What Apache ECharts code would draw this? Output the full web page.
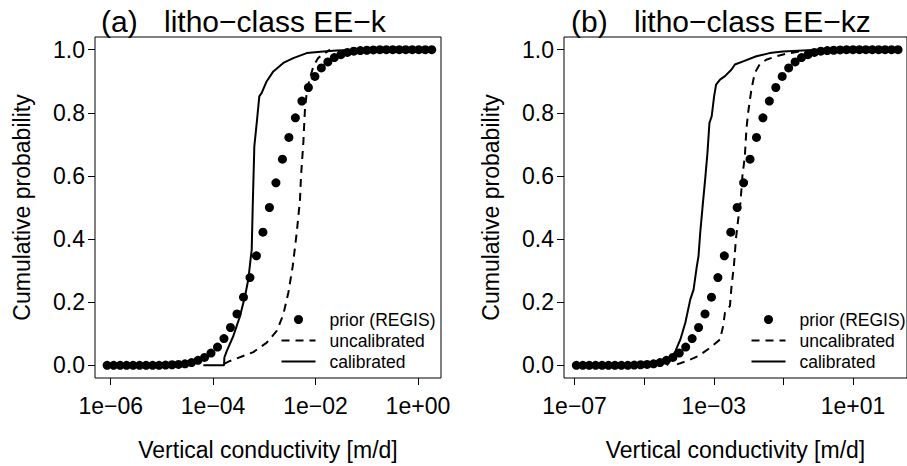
<!DOCTYPE html>
<html>
<head>
<meta charset="utf-8">
<script src="https://cdn.jsdelivr.net/npm/echarts@6/dist/echarts.min.js"></script>
<style>
  html, body { margin: 0; padding: 0; background: #ffffff; }
  #chart { width: 907px; height: 466px; }
</style>
</head>
<body>
<div id="chart"></div>
<script>
// Cumulative distributions of vertical conductivity (log10 of m/d) for two litho-classes.

// Prior (REGIS) quantile points, panel (a): log10 K
const priorLogKA = [-6.070, -5.943, -5.816, -5.690, -5.563, -5.436, -5.309, -5.182, -5.056, -4.929,
  -4.802, -4.675, -4.548, -4.422, -4.295, -4.168, -4.041, -3.914, -3.788, -3.661,
  -3.534, -3.407, -3.280, -3.154, -3.027, -2.900, -2.773, -2.646, -2.520, -2.393,
  -2.266, -2.139, -2.012, -1.886, -1.759, -1.632, -1.505, -1.378, -1.252, -1.125,
  -0.998, -0.871, -0.744, -0.618, -0.491, -0.364, -0.237, -0.110, 0.016, 0.143, 0.270];
// Prior (REGIS) quantile points, panel (b): log10 K
const priorLogKB = [-6.950, -6.765, -6.580, -6.395, -6.210, -6.026, -5.841, -5.656, -5.471, -5.286,
  -5.101, -4.916, -4.731, -4.546, -4.361, -4.177, -3.992, -3.807, -3.622, -3.437,
  -3.252, -3.067, -2.882, -2.697, -2.512, -2.328, -2.143, -1.958, -1.773, -1.588,
  -1.403, -1.218, -1.033, -0.848, -0.663, -0.478, -0.294, -0.109, 0.076, 0.261,
  0.446, 0.631, 0.816, 1.001, 1.186, 1.371, 1.556, 1.740, 1.925, 2.110, 2.295];
// Cumulative probability of the prior points
const priorProbA = [0, 0, 0, 0, 0, 0, 0, 0, 0, 0.001,
  0.002, 0.003, 0.005, 0.009, 0.016, 0.025, 0.039, 0.058, 0.085, 0.120,
  0.163, 0.216, 0.278, 0.347, 0.422, 0.500, 0.578, 0.653, 0.722, 0.784,
  0.837, 0.880, 0.915, 0.942, 0.961, 0.975, 0.984, 0.991, 0.995, 0.997,
  0.998, 0.999, 1, 1, 1, 1, 1, 1, 1, 1, 1];
const priorProbB = [0, 0, 0, 0, 0, 0, 0, 0, 0, 0.001,
  0.002, 0.003, 0.005, 0.009, 0.016, 0.025, 0.039, 0.058, 0.085, 0.120,
  0.163, 0.216, 0.278, 0.347, 0.422, 0.500, 0.578, 0.653, 0.722, 0.784,
  0.837, 0.880, 0.915, 0.942, 0.961, 0.975, 0.984, 0.991, 0.995, 0.997,
  0.998, 0.999, 1, 1, 1, 1, 1, 1, 1, 1, 1];

// Panel (a) uncalibrated ensemble
const uncalLogKA = [-3.787, -3.670, -3.215, -2.953, -2.758, -2.629, -2.531, -2.445, -2.367, -2.303,
  -2.283, -2.238, -2.205, -2.160, -2.107, -2.043, -1.945, -1.717];
const uncalProbA = [0.005, 0.014, 0.042, 0.072, 0.109, 0.161, 0.230, 0.314, 0.420, 0.525,
  0.600, 0.705, 0.815, 0.879, 0.910, 0.947, 0.974, 1.000];
// Panel (a) calibrated ensemble
const calLogKA = [-4.191, -3.787, -3.780, -3.734, -3.605, -3.475, -3.377, -3.313, -3.246, -3.227,
  -3.195, -3.148, -3.098, -3.051, -2.953, -2.824, -2.629, -2.434, -2.172, -1.848, -1.586, -1.230];
const calProbA = [0.000, 0.000, 0.025, 0.045, 0.093, 0.156, 0.219, 0.272, 0.367, 0.500,
  0.694, 0.768, 0.852, 0.863, 0.900, 0.931, 0.958, 0.973, 0.989, 0.994, 0.997, 1.000];

// Panel (b) uncalibrated ensemble
const uncalLogKB = [-4.057, -3.772, -3.439, -3.105, -2.821, -2.740, -2.678, -2.536, -2.490, -2.422,
  -2.365, -2.299, -2.234, -2.177, -2.108, -2.063, -2.014, -1.920, -1.823, -1.681,
  -1.493, -1.208, -0.923, -0.541, -0.020];
const uncalProbB = [0.003, 0.014, 0.030, 0.056, 0.082, 0.120, 0.167, 0.188, 0.251, 0.314,
  0.399, 0.462, 0.515, 0.600, 0.662, 0.747, 0.800, 0.873, 0.926, 0.953,
  0.968, 0.979, 0.987, 0.994, 1.000];
// Panel (b) calibrated ensemble
const calLogKB = [-4.350, -4.103, -3.960, -3.818, -3.675, -3.581, -3.487, -3.439, -3.390, -3.316,
  -3.248, -3.182, -3.125, -3.060, -2.991, -2.934, -2.821, -2.678, -2.490, -2.393,
  -2.157, -1.778, -1.396, -1.017, -0.447, 0.265];
const calProbB = [0.000, 0.045, 0.082, 0.135, 0.209, 0.240, 0.314, 0.346, 0.420, 0.510,
  0.589, 0.673, 0.768, 0.789, 0.852, 0.889, 0.905, 0.916, 0.937, 0.953,
  0.963, 0.979, 0.989, 0.994, 0.997, 1.000];

// Axis ticks (log10 of conductivity) and probability ticks
const xTicksA = [-6, -4, -2, 0];
const xLabelsA = [-6, -4, -2, 0];
const xTicksB = [-7, -5, -3, -1, 1];
const xLabelsB = [-7, -3, 1];
const yTicks = [0, 0.2, 0.4, 0.6, 0.8, 1.0];

const seriesNames = ['prior (REGIS)', 'uncalibrated', 'calibrated'];
const panelTitles = ['(a)', 'litho\u2212class EE\u2212k', '(b)', 'litho\u2212class EE\u2212kz'];
const xAxisTitle = 'Vertical conductivity [m/d]';
const yAxisTitle = 'Cumulative probability';

const FONT = 'Liberation Sans, Arial, Helvetica, sans-serif';
const MINUS = '\u2212';
const DASH = [8, 6];

function pairs(xs, ys) { return xs.map((x, i) => [x, ys[i]]); }
function sciLabel(v) {
  const e = Math.round(v);
  const s = e < 0 ? MINUS : '+';
  const a = Math.abs(e);
  return '1e' + s + (a < 10 ? '0' + a : String(a));
}

function makeXAxis(idx, min, max, ticks, labels) {
  return {
    type: 'value', gridIndex: idx, min: min, max: max,
    splitLine: { show: false },
    axisLine: { show: false, onZero: false },
    axisTick: { show: true, inside: false, length: 7, customValues: ticks, lineStyle: { color: '#000', width: 1 } },
    axisLabel: { customValues: labels, formatter: sciLabel, color: '#000', fontSize: 23, fontFamily: FONT, margin: 16 },
    name: xAxisTitle, nameLocation: 'middle', nameGap: 60,
    nameTextStyle: { color: '#000', fontSize: 23, fontFamily: FONT }
  };
}
function makeYAxis(idx) {
  return {
    type: 'value', gridIndex: idx, min: -0.04, max: 1.04,
    splitLine: { show: false },
    axisLine: { show: false, onZero: false },
    axisTick: { show: true, inside: false, length: 7, customValues: yTicks, lineStyle: { color: '#000', width: 1 } },
    axisLabel: { customValues: yTicks, formatter: v => v.toFixed(1), color: '#000', fontSize: 23, fontFamily: FONT, margin: 10 },
    name: yAxisTitle, nameLocation: 'middle', nameGap: 62, nameRotate: 90,
    nameTextStyle: { color: '#000', fontSize: 23, fontFamily: FONT }
  };
}
function panelSeries(idx, pX, pY, uX, uY, cX, cY) {
  return [
    { name: seriesNames[0], type: 'scatter', xAxisIndex: idx, yAxisIndex: idx,
      data: pairs(pX, pY), symbol: 'circle', symbolSize: 9,
      itemStyle: { color: '#000', opacity: 1 }, z: 2 },
    { name: seriesNames[1], type: 'line', xAxisIndex: idx, yAxisIndex: idx,
      data: pairs(uX, uY), symbol: 'none',
      itemStyle: { color: '#000' },
      lineStyle: { color: '#000', width: 2, type: DASH }, z: 3 },
    { name: seriesNames[2], type: 'line', xAxisIndex: idx, yAxisIndex: idx,
      data: pairs(cX, cY), symbol: 'none',
      itemStyle: { color: '#000' },
      lineStyle: { color: '#000', width: 2, type: 'solid' }, z: 3 }
  ];
}

// Key drawn in the lower right of each panel: symbol column then labels
function keyGroup(left, top) {
  const rowH = 21, symW = 34, textX = symW + 14;
  const txt = (i) => ({
    type: 'text', x: textX, y: i * rowH,
    style: { text: seriesNames[i], fill: '#000', font: '17.5px ' + FONT, textVerticalAlign: 'middle', textAlign: 'left' }
  });
  return {
    type: 'group', left: left, top: top, silent: true,
    children: [
      { type: 'circle', shape: { cx: symW / 2, cy: 0, r: 4.5 }, style: { fill: '#000' } },
      { type: 'line', shape: { x1: 0, y1: rowH, x2: symW, y2: rowH }, style: { stroke: '#000', lineWidth: 2, lineDash: DASH } },
      { type: 'line', shape: { x1: 0, y1: 2 * rowH, x2: symW, y2: 2 * rowH }, style: { stroke: '#000', lineWidth: 2 } },
      txt(0), txt(1), txt(2)
    ]
  };
}

const chart = echarts.init(document.getElementById('chart'), null, { renderer: 'svg' });
chart.setOption({
  animation: false,
  backgroundColor: '#ffffff',
  title: [
    { text: panelTitles[0], left: 96, top: 1, textStyle: { fontSize: 30, fontWeight: 'normal', color: '#000', fontFamily: FONT } },
    { text: panelTitles[1], left: 159, top: 1, textStyle: { fontSize: 30, fontWeight: 'normal', color: '#000', fontFamily: FONT } },
    { text: panelTitles[2], left: 566, top: 1, textStyle: { fontSize: 30, fontWeight: 'normal', color: '#000', fontFamily: FONT } },
    { text: panelTitles[3], left: 629, top: 1, textStyle: { fontSize: 30, fontWeight: 'normal', color: '#000', fontFamily: FONT } }
  ],
  grid: [
    { left: 95, top: 37, width: 346, height: 341, show: true, borderColor: '#000', borderWidth: 1, backgroundColor: 'transparent' },
    { left: 564, top: 37, width: 346, height: 341, show: true, borderColor: '#000', borderWidth: 1, backgroundColor: 'transparent' }
  ],
  xAxis: [
    makeXAxis(0, -6.307, 0.451, xTicksA, xLabelsA),
    makeXAxis(1, -7.305, 2.553, xTicksB, xLabelsB)
  ],
  yAxis: [makeYAxis(0), makeYAxis(1)],
  series: [].concat(
    panelSeries(0, priorLogKA, priorProbA, uncalLogKA, uncalProbA, calLogKA, calProbA),
    panelSeries(1, priorLogKB, priorProbB, uncalLogKB, uncalProbB, calLogKB, calProbB)
  ),
  graphic: [keyGroup(279, 310.5), keyGroup(749, 310.5)]
});
</script>
</body>
</html>
